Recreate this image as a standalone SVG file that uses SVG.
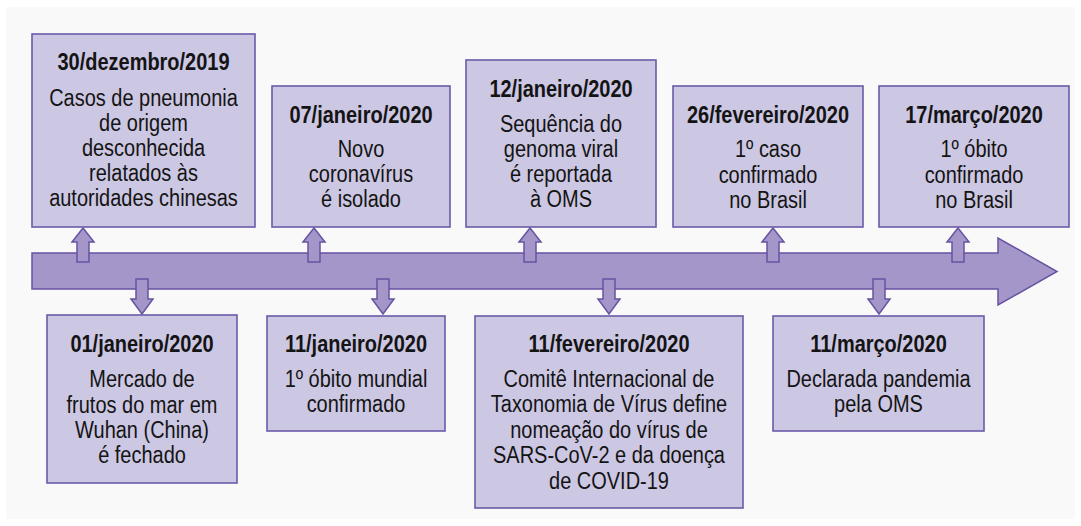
<svg xmlns="http://www.w3.org/2000/svg" width="1081" height="526" viewBox="0 0 1081 526">
<style>
.box{fill:#ccc7e3;stroke:#6c5aa8;stroke-width:1.6}
.arr{fill:#a496c9;stroke:#6753a2;stroke-width:1.5;stroke-linejoin:miter}
text{font-family:"Liberation Sans",Arial,sans-serif;fill:#141414;text-anchor:middle}
.t{font-size:23.5px;font-weight:bold}
.b{font-size:23.5px}
</style>
<rect x="0" y="0" width="1081" height="526" fill="#ffffff"/>
<rect x="6" y="7" width="1069" height="512" fill="#f9f9f9"/>
<g id="timeline">
<polygon class="arr" points="32,253 998,253 998,238 1057,271.5 998,305 998,289 32,289"/>
</g>
<g id="connectors">
<polygon class="arr" points="77,262 77,242 72,242 83,228 94,242 89,242 89,262"/>
<polygon class="arr" points="308,262 308,242 303,242 314,228 325,242 320,242 320,262"/>
<polygon class="arr" points="524,262 524,242 519,242 530,228 541,242 536,242 536,262"/>
<polygon class="arr" points="767,262 767,242 762,242 773,228 784,242 779,242 779,262"/>
<polygon class="arr" points="952,262 952,242 947,242 958,228 969,242 964,242 964,262"/>
<polygon class="arr" points="136,279 148,279 148,299 153,299 142,314 131,299 136,299"/>
<polygon class="arr" points="377,279 389,279 389,299 394,299 383,314 372,299 377,299"/>
<polygon class="arr" points="603,279 615,279 615,299 620,299 609,314 598,299 603,299"/>
<polygon class="arr" points="873,279 885,279 885,299 890,299 879,314 868,299 873,299"/>
</g>
<g id="n1">
<rect class="box" x="32" y="34" width="223" height="193"/>
<g transform="translate(143.5 0) scale(0.85 1)">
<text class="t" x="0" y="70">30/dezembro/2019</text>
<text class="b" x="0" y="106">Casos de pneumonia</text>
<text class="b" x="0" y="131">de origem</text>
<text class="b" x="0" y="156">desconhecida</text>
<text class="b" x="0" y="181">relatados às</text>
<text class="b" x="0" y="206">autoridades chinesas</text>
</g>
</g>
<g id="n2">
<rect class="box" x="272" y="86" width="178" height="141"/>
<g transform="translate(361 0) scale(0.85 1)">
<text class="t" x="0" y="123">07/janeiro/2020</text>
<text class="b" x="0" y="157">Novo</text>
<text class="b" x="0" y="182">coronavírus</text>
<text class="b" x="0" y="207">é isolado</text>
</g>
</g>
<g id="n3">
<rect class="box" x="466" y="60" width="190" height="167"/>
<g transform="translate(561 0) scale(0.85 1)">
<text class="t" x="0" y="97">12/janeiro/2020</text>
<text class="b" x="0" y="132">Sequência do</text>
<text class="b" x="0" y="157">genoma viral</text>
<text class="b" x="0" y="182">é reportada</text>
<text class="b" x="0" y="207">à OMS</text>
</g>
</g>
<g id="n4">
<rect class="box" x="673" y="86" width="190" height="141"/>
<g transform="translate(768 0) scale(0.85 1)">
<text class="t" x="0" y="123">26/fevereiro/2020</text>
<text class="b" x="0" y="157">1º caso</text>
<text class="b" x="0" y="183">confirmado</text>
<text class="b" x="0" y="208">no Brasil</text>
</g>
</g>
<g id="n5">
<rect class="box" x="879" y="86" width="190" height="141"/>
<g transform="translate(974 0) scale(0.85 1)">
<text class="t" x="0" y="123">17/março/2020</text>
<text class="b" x="0" y="157">1º óbito</text>
<text class="b" x="0" y="183">confirmado</text>
<text class="b" x="0" y="208">no Brasil</text>
</g>
</g>
<g id="n6">
<rect class="box" x="47" y="315" width="190" height="168"/>
<g transform="translate(142 0) scale(0.85 1)">
<text class="t" x="0" y="352">01/janeiro/2020</text>
<text class="b" x="0" y="387">Mercado de</text>
<text class="b" x="0" y="413">frutos do mar em</text>
<text class="b" x="0" y="438">Wuhan (China)</text>
<text class="b" x="0" y="463">é fechado</text>
</g>
</g>
<g id="n7">
<rect class="box" x="267" y="316" width="178" height="115"/>
<g transform="translate(356 0) scale(0.85 1)">
<text class="t" x="0" y="352">11/janeiro/2020</text>
<text class="b" x="0" y="387">1º óbito mundial</text>
<text class="b" x="0" y="412">confirmado</text>
</g>
</g>
<g id="n8">
<rect class="box" x="475" y="316" width="268" height="192"/>
<g transform="translate(609 0) scale(0.85 1)">
<text class="t" x="0" y="352">11/fevereiro/2020</text>
<text class="b" x="0" y="387">Comitê Internacional de</text>
<text class="b" x="0" y="412.5">Taxonomia de Vírus define</text>
<text class="b" x="0" y="438">nomeação do vírus de</text>
<text class="b" x="0" y="463.5">SARS-CoV-2 e da doença</text>
<text class="b" x="0" y="489">de COVID-19</text>
</g>
</g>
<g id="n9">
<rect class="box" x="773" y="316" width="211" height="115"/>
<g transform="translate(878.5 0) scale(0.85 1)">
<text class="t" x="0" y="352">11/março/2020</text>
<text class="b" x="0" y="387">Declarada pandemia</text>
<text class="b" x="0" y="412">pela OMS</text>
</g>
</g>
</svg>
